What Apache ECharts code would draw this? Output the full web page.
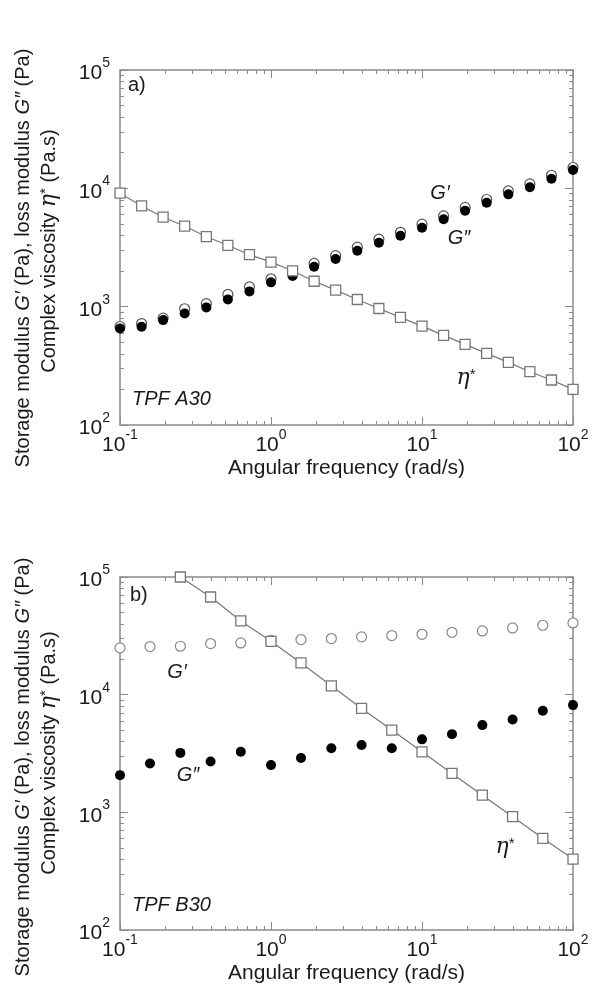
<!DOCTYPE html>
<html>
<head>
<meta charset="utf-8">
<script src="https://cdn.jsdelivr.net/npm/echarts@6/dist/echarts.min.js"></script>
<style>
  html, body { margin: 0; padding: 0; background: #fff; }
  #chart { width: 592px; height: 993px; }
</style>
</head>
<body>
<div id="chart"></div>
<script>
// panel a) TPF A30
const freqA = [0.1, 0.139, 0.193, 0.268, 0.373, 0.518, 0.72, 1, 1.39, 1.93, 2.68, 3.73, 5.18, 7.2, 10, 13.9, 19.3, 26.8, 37.3, 51.8, 72, 100]
const gPrimeA = [680, 720, 800, 960, 1060, 1270, 1470, 1720, 1950, 2320, 2700, 3180, 3720, 4250, 4980, 5850, 6900, 8050, 9500, 10900, 12900, 15000]
const gDoublePrimeA = [655, 676, 770, 877, 986, 1152, 1346, 1605, 1815, 2175, 2526, 2968, 3468, 3975, 4645, 5470, 6467, 7555, 8895, 10200, 12050, 14280]
const etaA = [9100, 7100, 5700, 4800, 3900, 3300, 2750, 2380, 2010, 1640, 1380, 1150, 965, 812, 685, 572, 480, 403, 338, 282, 240, 200]

// panel b) TPF B30
const freqB = [0.1, 0.158, 0.251, 0.398, 0.631, 1, 1.58, 2.51, 3.98, 6.31, 10, 15.8, 25.1, 39.8, 63.1, 100]
const gPrimeB = [25000, 25600, 25800, 27200, 27500, 29000, 29400, 30000, 31000, 31800, 32600, 33900, 34800, 36900, 38900, 40700]
const gDoublePrimeB = [2070, 2600, 3200, 2700, 3270, 2520, 2900, 3500, 3730, 3500, 4170, 4620, 5510, 6160, 7290, 8150]
const etaB = [null, null, 100000, 67600, 42300, 28400, 18600, 11900, 7640, 5000, 3270, 2140, 1400, 918, 601, 401]

// axis ticks
const xMajor = [0.1, 1, 10, 100]
const xMinor = [0.2, 0.3, 0.4, 0.5, 0.6, 0.7, 0.8, 0.9, 2, 3, 4, 5, 6, 7, 8, 9, 20, 30, 40, 50, 60, 70, 80, 90]
const yMajor = [100, 1000, 10000, 100000]
const yMinor = [200, 300, 400, 500, 600, 700, 800, 900, 2000, 3000, 4000, 5000, 6000, 7000, 8000, 9000, 20000, 30000, 40000, 50000, 60000, 70000, 80000, 90000]

const FONT = 'Liberation Sans, Arial, sans-serif'
const FRAME = '#8a8a8a'
const INK = '#1a1a1a'

const pairs = (xs, ys) => xs.map((x, i) => [x, ys[i]]).filter(p => p[1] != null)

const powLabel = (v) => {
  const e = Math.round(Math.log10(v))
  return '{b|10}{s|' + e + '}'
}
const labelRich = {
  b: { fontSize: 21, lineHeight: 28, fontFamily: FONT, color: INK, verticalAlign: 'bottom' },
  s: { fontSize: 14, lineHeight: 14, fontFamily: FONT, color: INK, verticalAlign: 'top' }
}

// 4 axes per direction: main + minor ticks, on both sides
const makeX = (grid) => {
  const base = { type: 'log', logBase: 10, min: 0.1, max: 100, gridIndex: grid, splitLine: { show: false } }
  return [
    { ...base, position: 'bottom',
      axisLine: { show: true, onZero: false, lineStyle: { color: FRAME, width: 1.5 } },
      axisTick: { show: true, inside: true, length: 8, customValues: xMajor, lineStyle: { color: FRAME } },
      axisLabel: { show: true, customValues: xMajor, margin: 3, formatter: powLabel, rich: labelRich },
      name: 'Angular frequency (rad/s)', nameLocation: 'middle', nameGap: 33,
      nameTextStyle: { fontSize: 21, fontFamily: FONT, color: INK } },
    { ...base, position: 'bottom', axisLine: { show: false },
      axisTick: { show: true, inside: true, length: 4, customValues: xMinor, lineStyle: { color: FRAME } },
      axisLabel: { show: false } },
    { ...base, position: 'top',
      axisLine: { show: true, onZero: false, lineStyle: { color: FRAME, width: 1.5 } },
      axisTick: { show: true, inside: true, length: 8, customValues: xMajor, lineStyle: { color: FRAME } },
      axisLabel: { show: false } },
    { ...base, position: 'top', axisLine: { show: false },
      axisTick: { show: true, inside: true, length: 4, customValues: xMinor, lineStyle: { color: FRAME } },
      axisLabel: { show: false } }
  ]
}

const makeY = (grid) => {
  const base = { type: 'log', logBase: 10, min: 100, max: 100000, gridIndex: grid, splitLine: { show: false } }
  return [
    { ...base, position: 'left',
      axisLine: { show: true, onZero: false, lineStyle: { color: FRAME, width: 1.5 } },
      axisTick: { show: true, inside: true, length: 8, customValues: yMajor, lineStyle: { color: FRAME } },
      axisLabel: { show: true, customValues: yMajor, margin: 10, formatter: powLabel, rich: labelRich } },
    { ...base, position: 'left', axisLine: { show: false },
      axisTick: { show: true, inside: true, length: 4, customValues: yMinor, lineStyle: { color: FRAME } },
      axisLabel: { show: false } },
    { ...base, position: 'right',
      axisLine: { show: true, onZero: false, lineStyle: { color: FRAME, width: 1.5 } },
      axisTick: { show: true, inside: true, length: 8, customValues: yMajor, lineStyle: { color: FRAME } },
      axisLabel: { show: false } },
    { ...base, position: 'right', axisLine: { show: false },
      axisTick: { show: true, inside: true, length: 4, customValues: yMinor, lineStyle: { color: FRAME } },
      axisLabel: { show: false } }
  ]
}

const makeSeries = (axis, gp, gpp, eta, freq, openStroke) => [
  {
    name: "G'", type: 'scatter', xAxisIndex: axis, yAxisIndex: axis,
    data: pairs(freq, gp), symbol: 'circle', symbolSize: 10,
    itemStyle: { color: '#fff', borderColor: openStroke, borderWidth: 1.2, opacity: 1 }
  },
  {
    name: "G''", type: 'scatter', xAxisIndex: axis, yAxisIndex: axis,
    data: pairs(freq, gpp), symbol: 'circle', symbolSize: 10,
    itemStyle: { color: '#000', borderWidth: 0, opacity: 1 }
  },
  {
    name: 'eta*', type: 'line', xAxisIndex: axis, yAxisIndex: axis,
    data: pairs(freq, eta), symbol: 'rect', symbolSize: 10, showSymbol: true,
    lineStyle: { color: '#777', width: 1.2 },
    itemStyle: { color: '#fff', borderColor: '#777', borderWidth: 1.3 },
    z: 3
  }
]

// text helpers
const txt = (x, y, text, extra, rotation) => ({
  type: 'text', x: x, y: y, z: 100, rotation: rotation || 0,
  style: Object.assign({
    text: text, fontSize: 20, fontFamily: FONT, fill: INK,
    align: 'center', verticalAlign: 'middle',
    rich: {
      i: { fontStyle: 'italic', fontSize: 20, fontFamily: FONT },
      e: { fontStyle: 'italic', fontSize: 22, fontFamily: 'DejaVu Serif, serif' },
      sup: { fontSize: 15, fontFamily: FONT, verticalAlign: 'top', lineHeight: 14 }
    }
  }, extra || {})
})

const yTitle1 = "Storage modulus {i|G′} (Pa), loss modulus {i|G″} (Pa)"
const yTitle2 = 'Complex viscosity {e|η}{sup|*} (Pa.s)'

const chart = echarts.init(document.getElementById('chart'), null, { renderer: 'canvas' })

chart.setOption({
  backgroundColor: '#fff',
  animation: false,
  grid: [
    { left: 120, top: 70, width: 453, height: 355 },
    { left: 120, top: 577, width: 453, height: 353 }
  ],
  xAxis: [...makeX(0), ...makeX(1)],
  yAxis: [...makeY(0), ...makeY(1)],
  series: [
    ...makeSeries(0, gPrimeA, gDoublePrimeA, etaA, freqA, '#555'),
    ...makeSeries(4, gPrimeB, gDoublePrimeB, etaB, freqB, '#888')
  ],
  graphic: [
    // panel a
    txt(23, 258, yTitle1, null, Math.PI / 2),
    txt(49, 251, yTitle2, null, Math.PI / 2),
    txt(128, 85, 'a)', { align: 'left' }),
    txt(132, 399, 'TPF A30', { align: 'left', fontStyle: 'italic' }),
    txt(440, 193, "{i|G′}"),
    txt(459, 238, "{i|G″}"),
    txt(466, 378, '{e|η}{sup|*}'),
    // panel b
    txt(23, 767, yTitle1, null, Math.PI / 2),
    txt(49, 753, yTitle2, null, Math.PI / 2),
    txt(130, 595, 'b)', { align: 'left' }),
    txt(132, 905, 'TPF B30', { align: 'left', fontStyle: 'italic' }),
    txt(177, 672, "{i|G′}"),
    txt(188, 775, "{i|G″}"),
    txt(505, 847, '{e|η}{sup|*}')
  ]
})
</script>
</body>
</html>
